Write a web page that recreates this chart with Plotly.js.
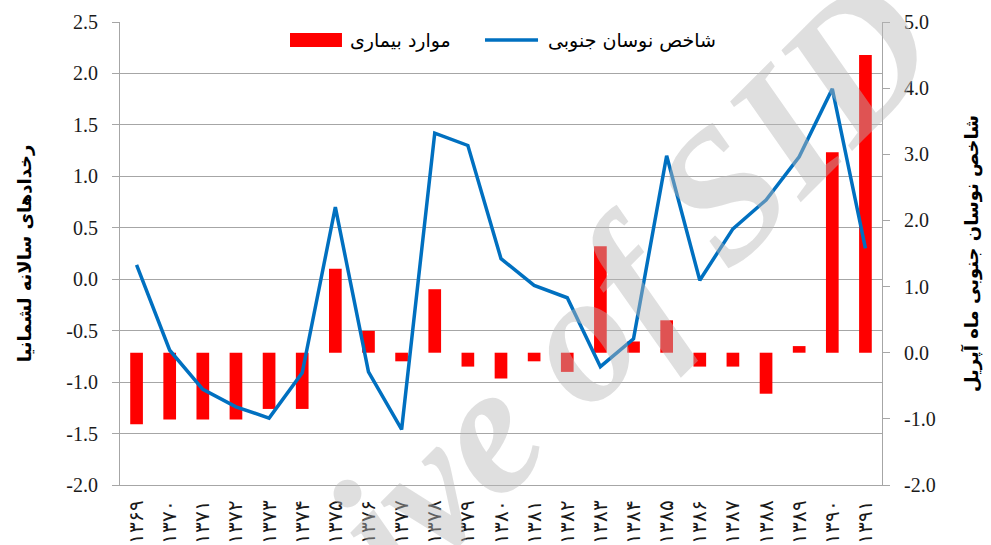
<!DOCTYPE html>
<html>
<head>
<meta charset="utf-8">
<script src="https://cdn.plot.ly/plotly-3.0.1.min.js"></script>
<style>html,body{margin:0;padding:0;background:#fff;}#chart{width:991px;height:545px;}</style>
</head>
<body>
<div id="chart"></div>
<script>
// ---- data ----
const years = ["۱۳۶۹","۱۳۷۰","۱۳۷۱","۱۳۷۲","۱۳۷۳","۱۳۷۴","۱۳۷۵","۱۳۷۶","۱۳۷۷","۱۳۷۸","۱۳۷۹","۱۳۸۰","۱۳۸۱","۱۳۸۲","۱۳۸۳","۱۳۸۴","۱۳۸۵","۱۳۸۶","۱۳۸۷","۱۳۸۸","۱۳۸۹","۱۳۹۰","۱۳۹۱"];
const diseaseCases = [-1.08,-1.01,-1.01,-1.01,-0.85,-0.85,1.27,0.33,-0.13,0.96,-0.21,-0.39,-0.13,-0.29,1.61,0.17,0.49,-0.21,-0.21,-0.62,0.10,3.03,4.50];
const soi = [0.14,-0.69,-1.07,-1.24,-1.35,-0.91,0.70,-0.90,-1.46,1.42,1.30,0.20,-0.06,-0.18,-0.85,-0.58,1.20,-0.01,0.49,0.77,1.19,1.85,0.30];
const barName = "موارد بیماری";
const lineName = "شاخص نوسان جنوبی";
const leftTitle = "رخدادهای سالانه لشمانیا";
const rightTitle = "شاخص نوسان جنوبی ماه آپریل";
const leftTickVals = [-2,-1.5,-1,-0.5,0,0.5,1,1.5,2,2.5];
const leftTickText = ["-2.0","-1.5","-1.0","-0.5","0.0","0.5","1.0","1.5","2.0","2.5"];
const rightTickVals = [-2,-1,0,1,2,3,4,5];
const rightTickText = ["-2.0","-1.0","0.0","1.0","2.0","3.0","4.0","5.0"];
const watermark = "Archive of SID";

// ---- styles ----
const gridC = "#a6a6a6";
const tickFont = {family: "Liberation Serif, Times New Roman, serif", size: 20, color: "#1a1a1a"};
const arFont = "DejaVu Sans, Noto Sans, sans-serif";

const traces = [
  // bars on the right-hand scale (main subplot)
  {type: "bar", x: years, y: diseaseCases, xaxis: "x", yaxis: "y", name: barName,
   marker: {color: "#ff0000"}, showlegend: false, hoverinfo: "skip"},
  // line on the left-hand scale (overlay, drawn above bars)
  {type: "scatter", mode: "lines", x: years, y: soi, xaxis: "x", yaxis: "y2", name: lineName,
   line: {color: "#0070c0", width: 3.5}, showlegend: false, hoverinfo: "skip"}
];

const layout = {
  width: 991, height: 545,
  margin: {l: 120, r: 109, t: 22, b: 60},
  paper_bgcolor: "#fff", plot_bgcolor: "#fff",
  bargap: 0.617,
  showlegend: false,
  xaxis: {type: "category", showgrid: false, showline: true, linecolor: gridC, linewidth: 1,
          ticks: "", tickangle: -90, tickfont: tickFont, ticklabelstandoff: 6, zeroline: false},
  xaxis2: {type: "category", overlaying: "x", matches: "x", anchor: "free", position: 2/4.5,
           showgrid: false, showline: true, linecolor: gridC, linewidth: 1,
           ticks: "outside", ticklen: 8, tickcolor: gridC, tickson: "boundaries",
           showticklabels: false, zeroline: false},
  yaxis: {range: [-2, 5], tickvals: rightTickVals, ticktext: rightTickText, side: "right",
          showgrid: false, zeroline: false, showline: true, linecolor: gridC, linewidth: 1,
          ticks: "outside", ticklen: 7, tickcolor: gridC, ticklabelstandoff: 10,
          tickfont: tickFont,
          title: {text: rightTitle, font: {family: arFont, size: 18, color: "#000", weight: "bold"}, standoff: 30}},
  yaxis2: {range: [-2, 2.5], tickvals: leftTickVals, ticktext: leftTickText, overlaying: "y", side: "left",
           showgrid: true, gridcolor: gridC, gridwidth: 1, zeroline: false,
           showline: true, linecolor: gridC, linewidth: 1,
           ticks: "outside", ticklen: 7, tickcolor: gridC, ticklabelstandoff: 10,
           tickfont: tickFont,
           title: {text: leftTitle, font: {family: arFont, size: 18, color: "#000", weight: "bold"}, standoff: 30}},
  shapes: [
    {type: "rect", xref: "paper", yref: "paper", x0: 0.2231, x1: 0.2913, y0: 0.9460, y1: 0.9762,
     fillcolor: "#ff0000", line: {width: 0}},
    {type: "line", xref: "paper", yref: "paper", x0: 0.479, x1: 0.5486, y0: 0.961, y1: 0.961,
     line: {color: "#0070c0", width: 3.5}}
  ],
  annotations: [
    {text: barName, xref: "paper", yref: "paper", x: 0.437, y: 0.961, xanchor: "right", yanchor: "middle",
     showarrow: false, font: {family: arFont, size: 19, color: "#000"}},
    {text: lineName, xref: "paper", yref: "paper", x: 0.7848, y: 0.961, xanchor: "right", yanchor: "middle",
     showarrow: false, font: {family: arFont, size: 19, color: "#000"}},
    {text: watermark, xref: "paper", yref: "paper", x: (492-120)/762, y: (485-422)/463,
     xanchor: "center", yanchor: "middle", textangle: -45, showarrow: false,
     font: {family: "Liberation Serif, serif", size: 185, color: "rgba(184,184,184,0.45)", style: "italic", weight: "bold"}}
  ]
};

Plotly.newPlot("chart", traces, layout, {staticPlot: true, displayModeBar: false});
</script>
</body>
</html>
